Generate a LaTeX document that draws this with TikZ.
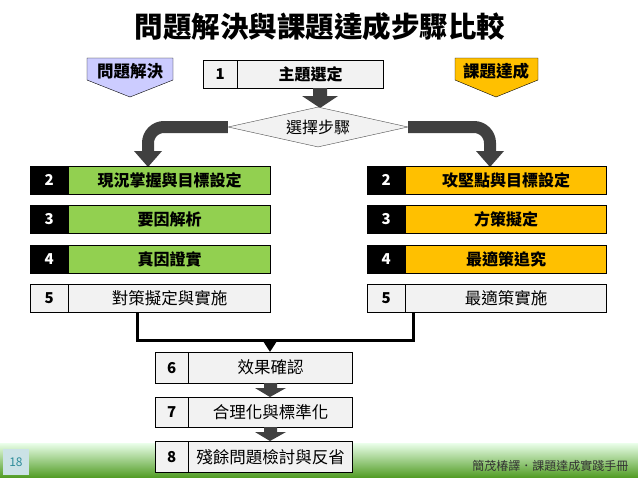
\documentclass[tikz,border=0pt]{standalone}
\usepackage{fontspec}
\setmainfont{Noto Sans CJK TC}
\usetikzlibrary{positioning,shapes.geometric,arrows.meta}
\definecolor{cellgray}{HTML}{F2F2F2}
\definecolor{arrowgray}{HTML}{404040}
\definecolor{probgreen}{HTML}{92D050}
\definecolor{taskorange}{HTML}{FFC000}
\definecolor{lavender}{HTML}{CCCCFF}
\definecolor{teal18}{HTML}{2E8C9A}
\tikzset{
	numcell/.style={draw=black, fill=cellgray, minimum width=34pt, minimum height=28pt, inner sep=0pt, anchor=north west, font=\bfseries\fontsize{15}{15}\selectfont},
	txtcell/.style={draw=black, fill=cellgray, minimum height=28pt, inner sep=0pt, anchor=west, font=\fontsize{16.5}{17}\selectfont},
	darknum/.style={numcell, fill=black, text=white},
	greentxt/.style={txtcell, fill=probgreen, font=\bfseries\fontsize{16}{17}\selectfont},
	orangetxt/.style={txtcell, fill=taskorange, font=\bfseries\fontsize{16}{17}\selectfont},
	blockarrow/.style={fill=arrowgray},
}
\begin{document}
\begin{tikzpicture}[x=1pt, y=-1pt]
	\useasboundingbox (0,0) rectangle (638,479);
	
	% footer strip
	\shade[top color=green!8!white, bottom color=green!50!lime!55!black!85] (0,443) rectangle (638,477);
	\node[fill=teal18!25, text=teal18, minimum width=26pt, minimum height=26pt, inner sep=0pt, font=\fontsize{12}{12}\selectfont] (page) at (16,462) {18};
	\node[anchor=east, font=\fontsize{12}{12}\selectfont, text=black!80] (credit) at (632,466) {簡茂椿譯．課題達成實踐手冊};
	
	% title
	\node[font=\bfseries\fontsize{28.5}{30}\selectfont] (title) at (320,27) {問題解決與課題達成步驟比較};
	
	% tags
	\draw[fill=lavender] (87,58) -- (173,58) -- (173,80) -- (130,97) -- (87,80) -- cycle;
	\node[font=\bfseries\fontsize{16.5}{17}\selectfont] (tagL) at (130,71) {問題解決};
	\draw[fill=taskorange] (455,58) -- (538,58) -- (538,80) -- (496,97) -- (455,80) -- cycle;
	\node[font=\bfseries\fontsize{16.5}{17}\selectfont] (tagR) at (496,71) {課題達成};
	
	% step 1
	\node[numcell] (n1) at (203,60) {1};
	\node[txtcell, minimum width=146pt, font=\bfseries\fontsize{16}{17}\selectfont, right=0pt of n1] (t1) {主題選定};
	
	\fill[blockarrow] (313,88) rectangle (327,96) (302,96) -- (338,96) -- (320,108) -- cycle;
	
	% choice
	\node[diamond, draw=black!70, fill=cellgray, aspect=4.5, minimum width=180pt, minimum height=40pt, inner sep=0pt, font=\fontsize{16}{17}\selectfont] (choice) at (318,127) {選擇步驟};
	
	\draw[arrowgray, line width=12pt, rounded corners=16pt] (choice.west) -- (148,127) -- (148,152);
	\fill[blockarrow] (134,151) -- (162,151) -- (148,167) -- cycle;
	\draw[arrowgray, line width=12pt, rounded corners=16pt] (choice.east) -- (490,127) -- (490,152);
	\fill[blockarrow] (476,151) -- (504,151) -- (490,167) -- cycle;
	
	% left column
	\node[darknum, minimum width=38pt] (l2) at (30,166) {2};
	\node[greentxt, minimum width=202pt, right=0pt of l2] (lt2) {現況掌握與目標設定};
	\node[darknum, minimum width=38pt] (l3) at (30,205) {3};
	\node[greentxt, minimum width=202pt, right=0pt of l3] (lt3) {要因解析};
	\node[darknum, minimum width=38pt] (l4) at (30,245) {4};
	\node[greentxt, minimum width=202pt, right=0pt of l4] (lt4) {真因證實};
	\node[numcell, minimum width=38pt] (l5) at (30,284) {5};
	\node[txtcell, minimum width=202pt, right=0pt of l5] (lt5) {對策擬定與實施};
	
	% right column
	\node[darknum, minimum width=38pt] (r2) at (367,166) {2};
	\node[orangetxt, minimum width=201pt, right=0pt of r2] (rt2) {攻堅點與目標設定};
	\node[darknum, minimum width=38pt] (r3) at (367,205) {3};
	\node[orangetxt, minimum width=201pt, right=0pt of r3] (rt3) {方策擬定};
	\node[darknum, minimum width=38pt] (r4) at (367,245) {4};
	\node[orangetxt, minimum width=201pt, right=0pt of r4] (rt4) {最適策追究};
	\node[numcell, minimum width=38pt] (r5) at (367,284) {5};
	\node[txtcell, minimum width=201pt, right=0pt of r5] (rt5) {最適策實施};
	
	% merge
	\coordinate (mergeL) at (137,340);
	\coordinate (mergeR) at (413,340);
	\coordinate (mergeM) at (270,340);
	\draw[line width=3pt] (lt5.south -| mergeL) -- (mergeL) -- (mergeR) -- (rt5.south -| mergeR);
	
	% steps 6-8
	\node[numcell, minimum width=33pt, minimum height=31pt] (n6) at (155,352) {6};
	\node[txtcell, minimum width=164pt, minimum height=31pt, right=0pt of n6] (t6) {效果確認};
	\node[numcell, minimum width=33pt, minimum height=30pt] (n7) at (155,397) {7};
	\node[txtcell, minimum width=164pt, minimum height=30pt, right=0pt of n7] (t7) {合理化與標準化};
	\node[numcell, minimum width=33pt, minimum height=31pt] (n8) at (155,441) {8};
	\node[txtcell, minimum width=164pt, minimum height=31pt, right=0pt of n8] (t8) {殘餘問題檢討與反省};
	
	\draw[line width=3pt, -{Triangle[length=10pt, width=12pt]}] (mergeM) -- (mergeM |- t6.north);
	
	\fill[blockarrow] (264,383) rectangle (277,388) (255,388) -- (286,388) -- (270,397) -- cycle;
	\fill[blockarrow] (264,427) rectangle (277,432) (255,432) -- (286,432) -- (270,441) -- cycle;
\end{tikzpicture}
\end{document}
